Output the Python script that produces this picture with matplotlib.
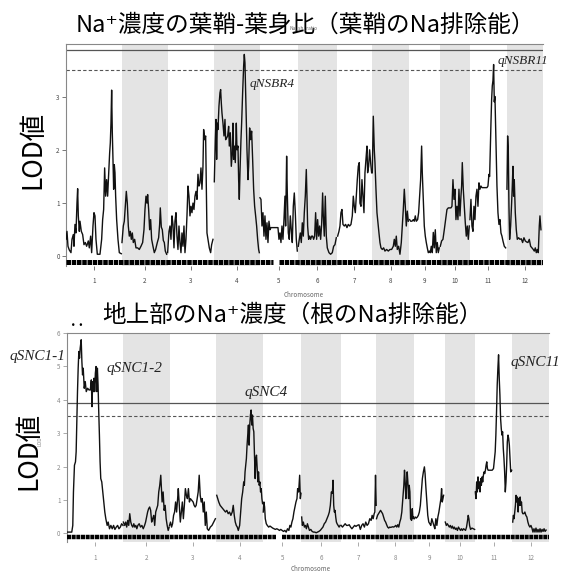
import matplotlib
matplotlib.use('Agg')
import matplotlib.pyplot as plt
import numpy as np

# Japanese text needs a CJK family, DejaVu as fallback for the superscript
plt.rcParams['font.family'] = ['Noto Sans CJK JP', 'DejaVu Sans']

# chromosomes and their lengths (cM)
chrom_names = ['1', '2', '3', '4', '5', '6', '7', '8', '9', '10', '11', '12']
chrom_len = [168, 137, 139, 138, 114, 117, 105, 112, 92, 89, 111, 110]

# marker rug (cM along the genome), with one empty stretch on chr 5
rug_segments = [(0, 622), (640, 1432)]

# LOD thresholds (solid, dashed)
ratio_thresh = [3.88, 3.5]
shoot_thresh = [3.9, 3.5]

# ---- top: Na+ sheath / blade ratio, (cM, LOD) per chromosome ----
ratio_c1 = [(0, 0.32), (3, 0.47), (6, 0.19), (10, 0.12), (15, 0.07), (18, 0.32), (22, 0.41), (24, 0.19),
            (27, 0.6), (30, 0.44), (33, 1.0), (35, 1.27), (37, 0.76), (40, 0.47), (42, 0.66), (46, 0.47),
            (50, 0.41), (54, 0.22), (58, 0.26), (62, 0.19), (67, 0.29), (70, 0.16), (74, 0.38), (77, 0.07),
            (81, 0.57), (84, 0.82), (87, 0.76), (90, 0.32), (94, 0.04), (102, 0.04), (107, 0.32), (110, 0.69),
            (113, 0.88), (116, 1.66), (119, 1.13), (122, 1.44), (125, 1.13), (128, 1.54), (131, 1.94),
            (133, 2.13), (135, 2.5), (137, 3.12), (139, 2.32), (141, 1.82), (143, 1.26), (145, 1.72),
            (147, 1.57), (149, 1.13), (152, 0.69), (156, 0.32), (160, 0.07), (166, 0.05)]
ratio_c2 = [(0, 0.26), (4, 0.57), (7, 0.66), (10, 0.94), (13, 1.22), (16, 1.0), (19, 0.57), (22, 0.38),
            (25, 0.47), (28, 0.32), (31, 0.44), (34, 0.26), (38, 0.32), (42, 0.16), (47, 0.16), (52, 0.13),
            (57, 0.19), (62, 0.26), (66, 0.5), (69, 0.88), (72, 1.13), (75, 1.0), (77, 1.16), (80, 0.88),
            (83, 0.5), (86, 0.69), (89, 0.32), (93, 0.19), (97, 0.07), (101, 0.13), (106, 0.26), (110, 0.35),
            (113, 0.6), (115, 0.91), (118, 0.55), (121, 0.5), (124, 0.3), (127, 0.26), (130, 0.1), (134, 0.04)]
ratio_c3 = [(0, 0.07), (4, 0.47), (7, 0.57), (10, 0.32), (13, 0.76), (16, 0.6), (19, 0.16), (22, 0.66),
            (25, 0.82), (28, 0.38), (31, 0.13), (34, 0.57), (37, 0.26), (40, 0.07), (43, 0.44), (46, 0.19),
            (49, 0.57), (52, 0.07), (55, 0.32), (58, 0.76), (61, 1.32), (64, 1.13), (67, 0.76), (70, 0.94),
            (73, 0.82), (76, 1.0), (79, 0.88), (82, 1.13), (85, 1.22), (88, 1.07), (91, 1.54), (94, 1.32),
            (97, 1.38), (100, 1.66), (103, 1.26), (106, 1.69), (108, 2.38), (111, 2.19), (114, 2.26),
            (116, 1.32), (118, 0.44), (121, 0.32), (125, 0.16), (129, 0.07), (132, 0.22), (136, 0.32)]
ratio_c4 = [(1, 1.4), (4, 2.19), (6, 2.57), (8, 1.82), (10, 2.5), (12, 2.38), (15, 2.82), (18, 3.07),
            (20, 3.13), (22, 2.88), (24, 2.69), (27, 2.5), (30, 2.26), (33, 2.57), (35, 2.19), (38, 2.22),
            (41, 2.26), (44, 2.44), (46, 2.07), (49, 2.32), (52, 1.69), (55, 1.94), (57, 2.5), (59, 1.82),
            (61, 2.07), (64, 1.76), (67, 2.5), (69, 2.0), (72, 2.07), (74, 1.44), (76, 1.07), (78, 1.57),
            (81, 2.19), (83, 2.5), (86, 3.07), (89, 3.57), (91, 3.79), (93, 3.63), (96, 2.82), (99, 2.0),
            (102, 1.44), (104, 1.69), (107, 2.41), (110, 2.19), (113, 2.35), (116, 1.82), (119, 1.26),
            (122, 0.94), (125, 0.76), (128, 0.57), (131, 0.32), (134, 0.13), (136, 0.07)]
ratio_c5 = [(0, 1.1), (3, 1.07), (6, 0.57), (9, 0.82), (12, 0.38), (15, 0.76), (18, 0.32), (21, 0.63),
            (24, 0.26), (27, 0.66), (30, 0.5), (33, 0.54), (39, 0.54), (45, 0.54), (50, 0.54), (54, 0.54),
            (57, 0.32), (60, 0.44), (63, 0.26), (66, 0.57), (69, 0.32), (72, 0.69), (75, 1.13), (77, 0.57),
            (80, 1.88), (82, 1.19), (85, 0.44), (88, 0.32), (91, 0.76), (94, 0.5), (97, 0.26), (100, 0.94),
            (103, 1.19), (106, 0.82), (109, 0.32), (112, 0.1)]
ratio_c6 = [(1, 0.19), (4, 0.32), (7, 0.44), (10, 0.26), (13, 0.63), (16, 0.38), (19, 0.82), (22, 1.13),
            (25, 1.63), (27, 1.13), (29, 0.57), (32, 0.32), (35, 0.38), (38, 0.32), (41, 0.38), (44, 0.38),
            (47, 0.32), (50, 0.38), (53, 0.82), (56, 0.32), (59, 0.69), (62, 0.38), (65, 0.57), (68, 0.32),
            (71, 0.6), (74, 1.19), (76, 0.76), (79, 0.38), (82, 1.13), (85, 0.38), (88, 0.16), (93, 0.07),
            (98, 0.04), (103, 0.07), (107, 0.19), (111, 0.22), (115, 0.35)]
ratio_c7 = [(2, 0.38), (6, 0.47), (9, 0.57), (12, 0.82), (15, 0.88), (18, 0.6), (22, 0.57), (26, 0.6),
            (30, 0.54), (34, 0.6), (38, 0.57), (42, 0.6), (46, 0.76), (49, 1.13), (52, 0.94), (55, 0.82),
            (58, 1.13), (61, 1.44), (64, 1.69), (67, 1.76), (69, 1.0), (72, 0.94), (75, 1.44), (78, 1.13),
            (81, 0.82), (84, 1.57), (87, 1.82), (90, 2.07), (92, 1.57), (95, 1.69), (98, 2.0), (101, 1.76),
            (104, 1.57)]
ratio_c8 = [(1, 1.57), (4, 2.63), (7, 2.0), (9, 1.76), (12, 1.26), (15, 0.82), (18, 0.63), (21, 0.44),
            (24, 0.26), (27, 0.16), (31, 0.13), (35, 0.16), (39, 0.1), (44, 0.13), (49, 0.1), (54, 0.13),
            (59, 0.13), (64, 0.19), (67, 0.32), (70, 0.19), (73, 0.38), (76, 0.13), (80, 0.19), (84, 0.04),
            (88, 0.26), (91, 0.57), (94, 0.88), (97, 1.26), (100, 0.94), (103, 0.57), (106, 0.85), (109, 0.66)]
ratio_c9 = [(1, 0.69), (4, 0.66), (8, 0.66), (12, 0.69), (15, 0.66), (18, 0.76), (21, 0.66), (25, 0.69),
            (28, 0.82), (31, 1.13), (34, 1.44), (37, 2.07), (39, 1.57), (42, 1.07), (45, 0.57), (48, 0.38),
            (51, 0.26), (54, 0.16), (57, 0.07), (60, 0.1), (63, 0.07), (66, 0.19), (69, 0.07), (72, 0.45),
            (75, 0.16), (78, 0.5), (81, 0.07), (84, 0.26), (87, 0.07), (90, 0.16)]
ratio_c10 = [(1, 0.19), (5, 0.29), (9, 0.32), (13, 0.5), (17, 0.69), (21, 0.88), (25, 0.91), (29, 0.91),
             (33, 0.91), (36, 0.94), (39, 1.44), (42, 1.07), (45, 1.26), (48, 0.69), (51, 0.94), (54, 0.69),
             (57, 1.26), (60, 0.76), (63, 1.13), (65, 1.32), (67, 1.76), (70, 1.26), (73, 0.94), (76, 0.63),
             (79, 0.38), (82, 0.57), (85, 0.32), (88, 0.57)]
ratio_c11 = [(1, 0.69), (4, 1.07), (7, 0.57), (10, 0.47), (13, 0.94), (16, 0.69), (19, 1.13), (22, 1.26),
             (25, 0.94), (28, 1.38), (31, 1.26), (34, 1.32), (37, 1.29), (41, 1.29), (45, 1.29), (49, 1.29),
             (52, 1.29), (55, 1.32), (58, 1.54), (60, 1.5), (62, 2.0), (64, 2.5), (66, 2.94), (68, 3.2),
             (70, 3.3), (72, 3.6), (74, 2.9), (76, 3.0), (78, 2.44), (80, 1.88), (82, 1.32), (85, 0.82),
             (88, 0.6), (91, 0.69), (94, 0.44), (97, 0.38), (100, 0.29), (104, 0.19), (108, 0.16)]
ratio_c12 = [(1, 1.26), (3, 2.26), (5, 2.0), (7, 0.94), (9, 0.32), (12, 0.57), (15, 1.0), (17, 1.32),
             (19, 1.69), (21, 1.13), (23, 1.44), (26, 0.82), (29, 0.5), (32, 0.32), (36, 0.35), (40, 0.32),
             (44, 0.33), (48, 0.26), (52, 0.35), (56, 0.29), (60, 0.27), (64, 0.26), (68, 0.32), (72, 0.19),
             (76, 0.16), (80, 0.13), (83, 0.1), (86, 0.16), (89, 0.07), (92, 0.13), (95, 0.07), (98, 0.57),
             (100, 0.76), (103, 0.5)]

# ---- bottom: shoot Na+ concentration, (cM, LOD) per chromosome ----
shoot_c1 = [(0, 0.04), (7, 0.04), (15, 0.04), (18, 0.24), (20, 1.24), (23, 2.04), (26, 2.14), (28, 2.44),
            (30, 3.34), (32, 4.24), (34, 4.94), (36, 5.44), (38, 5.24), (40, 5.54), (43, 5.79), (45, 5.14),
            (47, 4.74), (49, 4.94), (52, 4.34), (55, 4.54), (58, 4.24), (62, 4.34), (66, 4.29), (70, 4.29),
            (73, 4.59), (75, 3.79), (77, 4.54), (79, 4.24), (81, 4.64), (83, 4.24), (85, 4.79), (87, 4.99),
            (89, 4.24), (91, 4.94), (93, 4.44), (95, 3.64), (97, 2.94), (99, 2.14), (101, 1.64), (104, 1.54),
            (107, 1.24), (110, 0.94), (113, 0.64), (116, 0.44), (120, 0.24), (123, 0.34), (127, 0.14),
            (131, 0.24), (135, 0.14), (139, 0.24), (143, 0.12), (147, 0.19), (151, 0.24), (155, 0.14),
            (159, 0.19), (163, 0.29), (167, 0.24)]
shoot_c2 = [(0, 0.34), (4, 0.24), (7, 0.34), (10, 0.19), (13, 0.39), (16, 0.24), (19, 0.59), (22, 0.34),
            (25, 0.24), (28, 0.19), (31, 0.29), (34, 0.19), (37, 0.24), (40, 0.14), (43, 0.24), (47, 0.29),
            (51, 0.19), (55, 0.24), (59, 0.14), (63, 0.24), (66, 0.34), (69, 0.49), (72, 0.64), (75, 0.74),
            (78, 0.79), (81, 0.69), (84, 0.34), (87, 0.44), (90, 0.54), (93, 0.24), (96, 0.64), (99, 0.74),
            (102, 0.84), (105, 1.24), (108, 1.44), (111, 1.74), (113, 1.34), (115, 0.94), (118, 1.24),
            (121, 0.69), (124, 0.84), (127, 0.44), (130, 0.24), (133, 0.09), (136, 0.19)]
shoot_c3 = [(0, 0.24), (3, 0.34), (6, 0.19), (9, 0.29), (12, 0.54), (15, 0.64), (18, 0.94), (21, 0.64),
            (24, 1.04), (26, 1.34), (29, 0.84), (32, 0.34), (35, 0.64), (38, 0.94), (41, 0.44), (44, 0.84),
            (47, 1.34), (50, 1.14), (53, 1.04), (56, 1.34), (59, 0.94), (62, 1.04), (66, 0.99), (70, 0.94),
            (73, 0.84), (76, 0.79), (79, 0.84), (82, 1.04), (85, 1.24), (88, 1.74), (91, 1.14), (94, 0.94),
            (97, 1.04), (100, 0.64), (103, 0.94), (106, 0.24), (109, 0.64), (112, 0.14), (116, 0.09),
            (121, 0.19), (126, 0.24), (131, 0.34), (136, 0.44)]
shoot_c4 = [(1, 1.14), (4, 1.04), (7, 0.94), (11, 0.84), (15, 0.79), (19, 0.74), (23, 0.69), (27, 0.64),
            (31, 0.69), (35, 0.59), (39, 0.64), (43, 0.54), (47, 0.64), (50, 0.84), (53, 0.54), (56, 0.34),
            (59, 0.24), (62, 0.19), (65, 0.09), (69, 0.24), (72, 0.64), (75, 1.04), (78, 1.24), (81, 1.54),
            (83, 1.44), (85, 1.84), (87, 2.04), (89, 2.24), (91, 2.64), (93, 2.94), (95, 3.24), (97, 2.64),
            (99, 3.24), (101, 3.54), (103, 3.69), (105, 3.24), (107, 3.54), (109, 3.14), (111, 3.04),
            (113, 2.34), (115, 1.64), (117, 2.24), (119, 2.34), (121, 1.94), (123, 1.54), (125, 1.84),
            (127, 1.44), (129, 1.54), (131, 1.24), (133, 1.34), (135, 1.04), (137, 0.89)]
shoot_c5 = [(1, 0.64), (3, 0.94), (5, 0.79), (7, 0.44), (10, 0.29), (13, 0.24), (17, 0.19), (21, 0.22),
            (25, 0.19), (29, 0.16), (33, 0.14), (37, 0.12), (41, 0.14), (45, 0.12), (49, 0.09), (53, 0.12),
            (57, 0.09), (61, 0.06), (65, 0.09), (69, 0.04), (73, 0.14), (77, 0.09), (80, 0.24), (83, 0.19),
            (86, 0.34), (89, 0.44), (92, 0.64), (95, 0.79), (98, 0.94), (101, 1.04), (103, 1.34), (106, 1.24),
            (109, 1.74), (111, 1.04), (113, 1.2)]
shoot_c6 = [(1, 0.49), (3, 0.24), (6, 0.34), (9, 0.19), (12, 0.24), (15, 0.14), (18, 0.29), (21, 0.19),
            (24, 0.09), (28, 0.12), (32, 0.06), (36, 0.04), (40, 0.04), (44, 0.02), (48, 0.04), (52, 0.06),
            (56, 0.09), (60, 0.14), (64, 0.19), (68, 0.29), (72, 0.34), (76, 0.44), (80, 0.54), (83, 0.64),
            (86, 0.84), (89, 1.24), (92, 1.2), (94, 1.59), (96, 0.84), (98, 0.64), (100, 0.69), (102, 0.49),
            (104, 0.34), (106, 0.29), (109, 0.24), (112, 0.19), (115, 0.24)]
shoot_c7 = [(1, 0.24), (5, 0.19), (9, 0.24), (13, 0.29), (17, 0.24), (21, 0.24), (25, 0.26), (29, 0.19),
            (33, 0.14), (37, 0.19), (41, 0.24), (45, 0.21), (49, 0.24), (54, 0.26), (58, 0.12), (62, 0.24),
            (66, 0.29), (70, 0.19), (74, 0.34), (78, 0.24), (82, 0.29), (86, 0.44), (90, 0.39), (93, 0.54),
            (96, 0.44), (99, 0.59), (101, 0.64), (103, 1.74), (105, 0.84)]
shoot_c8 = [(1, 0.44), (4, 0.54), (7, 0.59), (10, 0.64), (13, 0.69), (16, 0.64), (19, 0.59), (22, 0.49),
            (25, 0.39), (28, 0.34), (31, 0.26), (34, 0.19), (37, 0.16), (40, 0.19), (43, 0.18), (46, 0.19),
            (49, 0.2), (52, 0.19), (55, 0.21), (58, 0.24), (61, 0.19), (64, 0.26), (67, 0.19), (70, 0.34),
            (73, 0.44), (76, 0.64), (79, 1.04), (82, 1.44), (84, 1.89), (86, 1.54), (88, 1.04), (90, 1.44),
            (92, 1.84), (94, 1.54), (96, 1.04), (98, 1.44), (100, 1.24), (102, 0.44), (105, 0.39), (107, 0.74),
            (109, 0.44), (111, 0.49)]
shoot_c9 = [(1, 0.44), (4, 0.49), (7, 0.46), (10, 0.49), (13, 0.54), (16, 0.64), (19, 0.84), (22, 1.24),
            (25, 1.64), (28, 1.84), (31, 1.99), (33, 1.79), (35, 1.44), (37, 1.14), (39, 0.84), (41, 0.54),
            (44, 0.34), (47, 0.29), (50, 0.24), (53, 0.44), (56, 0.34), (59, 0.24), (62, 0.14), (65, 0.44),
            (68, 0.24), (71, 0.49), (74, 0.64), (77, 0.84), (80, 1.04), (82, 1.34), (84, 0.94), (86, 1.04),
            (88, 1.14)]
shoot_c10 = [(1, 0.34), (4, 0.24), (7, 0.29), (10, 0.24), (13, 0.19), (16, 0.24), (19, 0.16), (22, 0.22),
             (25, 0.14), (28, 0.19), (31, 0.12), (34, 0.16), (37, 0.09), (40, 0.19), (43, 0.14), (46, 0.09),
             (49, 0.14), (52, 0.09), (55, 0.14), (58, 0.12), (61, 0.09), (64, 0.19), (67, 0.39), (69, 0.54),
             (71, 0.44), (73, 0.24), (76, 0.12), (80, 0.16), (84, 0.14), (88, 0.12)]
shoot_c11 = [(1, 1.24), (3, 1.04), (5, 1.54), (7, 1.24), (9, 1.69), (11, 1.34), (13, 1.54), (15, 1.24),
             (17, 1.64), (19, 1.44), (21, 1.69), (23, 1.54), (25, 1.74), (27, 1.84), (29, 1.79), (31, 1.89),
             (33, 2.04), (35, 2.14), (37, 1.94), (39, 1.89), (43, 1.89), (47, 1.89), (51, 1.89), (55, 1.94),
             (58, 2.24), (60, 2.44), (62, 2.94), (64, 3.64), (66, 4.44), (68, 4.94), (70, 5.34), (72, 4.64),
             (74, 4.14), (76, 3.44), (78, 3.14), (80, 2.94), (82, 3.04), (84, 2.54), (86, 2.24), (88, 1.84),
             (90, 1.24), (92, 1.54), (94, 2.04), (96, 2.74), (98, 2.94), (100, 2.84), (102, 2.64), (104, 2.24),
             (106, 1.84), (109, 1.89)]
shoot_c12 = [(1, 0.34), (3, 0.54), (5, 0.44), (7, 0.64), (9, 0.84), (11, 1.14), (13, 0.94), (15, 1.09),
             (17, 0.64), (19, 1.04), (21, 0.84), (23, 1.09), (25, 0.84), (27, 0.94), (29, 0.64), (31, 0.59),
             (34, 0.59), (37, 0.64), (40, 0.54), (43, 0.49), (46, 0.34), (49, 0.24), (52, 0.19), (55, 0.24),
             (58, 0.16), (61, 0.04), (64, 0.14), (67, 0.04), (70, 0.16), (73, 0.04), (76, 0.12), (79, 0.04),
             (82, 0.14), (85, 0.04), (88, 0.12), (91, 0.06), (94, 0.14), (97, 0.06), (100, 0.1)]

ratio_curves = [ratio_c1, ratio_c2, ratio_c3, ratio_c4, ratio_c5, ratio_c6,
                ratio_c7, ratio_c8, ratio_c9, ratio_c10, ratio_c11, ratio_c12]
shoot_curves = [shoot_c1, shoot_c2, shoot_c3, shoot_c4, shoot_c5, shoot_c6,
                shoot_c7, shoot_c8, shoot_c9, shoot_c10, shoot_c11, shoot_c12]

# QTL names and where they are written (cM, LOD)
ratio_qtl = [('qNSBR4', 552, 3.24), ('qNSBR11', 1296, 3.66)]
shoot_qtl = [('qSNC1-1', -171, 5.29), ('qSNC1-2', 118, 4.94), ('qSNC4', 528, 4.22), ('qSNC11', 1317, 5.11)]

chrom_start = np.concatenate([[0], np.cumsum(chrom_len)[:-1]])
chrom_mid = chrom_start + np.array(chrom_len) / 2
total_len = sum(chrom_len)


def draw_panel(ax, curves, thresh, ylim, yticks, rug_y, rug_lw, qtls, qtl_size, tick_col, xpad):
    # grey bands on the even chromosomes
    for i in range(len(chrom_len)):
        if i % 2 == 1:
            ax.axvspan(chrom_start[i], chrom_start[i] + chrom_len[i], color='#e4e4e4', lw=0, zorder=0)
    # LOD curve, one line per chromosome
    for i, pts in enumerate(curves):
        pts = np.array(pts)
        ax.plot(chrom_start[i] + pts[:, 0], pts[:, 1], color='#111111', lw=1.0, zorder=3)
    # thresholds
    ax.axhline(thresh[0], color='#555555', lw=0.9, zorder=2)
    ax.axhline(thresh[1], color='#555555', lw=0.8, ls=(0, (3, 2)), zorder=2)
    # marker rug
    for a, b in rug_segments:
        ax.plot([a, b], [rug_y, rug_y], color='black', lw=rug_lw, ls=(0, (0.9, 0.15)),
                solid_capstyle='butt', zorder=4)
    for name, x, y in qtls:
        ax.text(x, y, name, family='Liberation Serif', style='italic', fontsize=qtl_size,
                ha='left', va='center', color='#222222')
    ax.set_xlim(0, total_len)
    ax.set_ylim(ylim)
    ax.set_yticks(yticks)
    ax.set_xticks(chrom_mid)
    ax.set_xticklabels(chrom_names)
    ax.tick_params(axis='both', labelsize=4.5, colors=tick_col, length=3, width=0.5)
    ax.tick_params(axis='x', pad=xpad)
    ax.tick_params(axis='y', pad=1.5)
    for s in ['right', 'bottom']:
        ax.spines[s].set_visible(False)
    for s in ['left', 'top']:
        ax.spines[s].set_color('#888888')
        ax.spines[s].set_linewidth(0.8)


fig = plt.figure(figsize=(5.62, 5.72), dpi=100)

# top panel
ax1 = fig.add_axes([0.1174, 0.535, 0.8493, 0.3876])
draw_panel(ax1, ratio_curves, ratio_thresh, (-0.18, 3.98), [0, 1, 2, 3], -0.105, 3.6,
           ratio_qtl, 9.5, '#444444', 5)

# bottom panel
ax2 = fig.add_axes([0.1187, 0.0528, 0.859, 0.3655])
draw_panel(ax2, shoot_curves, shoot_thresh, (-0.25, 6.0), [0, 1, 2, 3, 4, 5, 6], -0.12, 3.2,
           shoot_qtl, 11, '#888888', 6)

# titles and axis labels
fig.text(0.544, 0.956, 'Na⁺濃度の葉鞘-葉身比（葉鞘のNa排除能）', fontsize=17, ha='center', va='center')
fig.text(0.521, 0.449, '地上部のNa⁺濃度（根のNa排除能）', fontsize=17, ha='center', va='center')
fig.text(0.059, 0.738, 'LOD値', fontsize=19, rotation=90, ha='center', va='center')
fig.text(0.052, 0.2115, 'LOD値', fontsize=19, rotation=90, ha='center', va='center')

# small leftovers of the original R labels
fig.text(0.54, 0.951, 'Na_sh_ratio', fontsize=3.5, color='#666666', ha='center', va='center')
fig.text(0.071, 0.229, 'LOD', fontsize=3.5, color='#888888', rotation=90, ha='center', va='center')
fig.text(0.541, 0.484, 'Chromosome', fontsize=4.5, color='#666666', ha='center', va='center')
fig.text(0.552, 0.005, 'Chromosome', fontsize=4.5, color='#666666', ha='center', va='center')
fig.text(0.137, 0.437, '. .', fontsize=10, fontweight='bold', ha='center', va='center')

plt.savefig('out.png', dpi=100)
